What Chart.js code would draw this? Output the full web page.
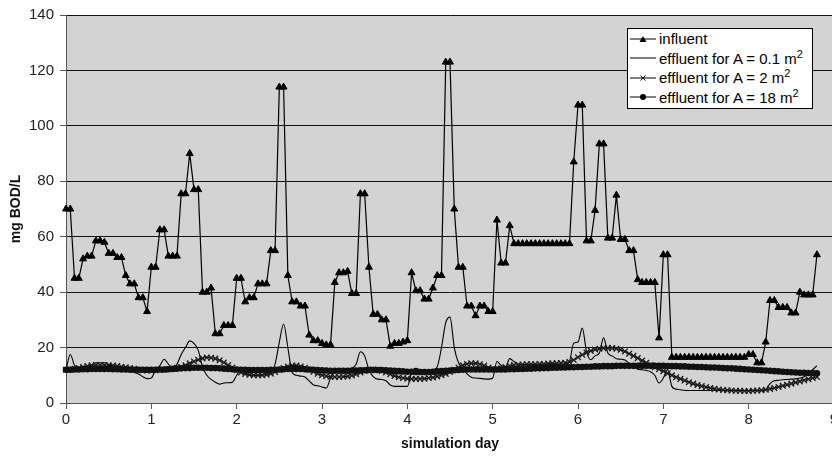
<!DOCTYPE html>
<html lang="en">
<head>
<meta charset="UTF-8">
<title>BOD simulation</title>
<style>
  body { margin: 0; background: #fff; overflow: hidden; }
  #wrap { position: relative; width: 832px; height: 457px; overflow: hidden; }
  #bod { display: block; }
  #legend {
    position: absolute; left: 627px; top: 28px; width: 186px; height: 81px;
    box-sizing: border-box; background: #fff; border: 1px solid #000;
    font: 15px "Liberation Sans", Arial, sans-serif; color: #000; padding-top: 0px;
  }
  .row { height: 19.5px; display: flex; align-items: center; white-space: nowrap; }
  .row svg { margin: 0 3px 0 2px; flex: none; }
  sup { font-size: 11px; vertical-align: 6px; line-height: 0; }
</style>
</head>
<body>
<div id="wrap">
  <canvas id="bod" width="850" height="457"></canvas>
  <div id="legend"></div>
</div>
<script src="https://cdn.jsdelivr.net/npm/chart.js"></script>
<script>
// one output every 0.05 day, from day 0 to day 8.8
const step = 0.05;

const influent = [
  70, 70, 45, 45, 52, 53, 53, 58.5, 58.5, 58,
  54, 54, 52.5, 52.5, 46, 43, 43, 38, 38, 33,
  49, 49, 62.5, 62.5, 53, 53, 53, 75.5, 75.5, 90,
  77, 77, 40, 40, 41.5, 25, 25, 28, 28, 28,
  45, 45, 36.5, 38, 38, 43, 43, 43, 55, 55,
  114, 114, 46, 36.5, 36.5, 35, 35, 24.5, 22.5, 22.5,
  21.5, 21, 21, 43.5, 47, 47, 47.5, 39.5, 39.5, 75.5,
  75.5, 49, 32, 32, 30, 30, 20.5, 21.5, 21.5, 22,
  22.5, 47, 40.5, 40.5, 37.5, 37.5, 41.5, 46, 46, 123,
  123, 70, 49, 49, 35, 35, 31.5, 35, 35, 33,
  33, 66, 50.5, 50.5, 64, 57.5, 57.5, 57.5, 57.5, 57.5,
  57.5, 57.5, 57.5, 57.5, 57.5, 57.5, 57.5, 57.5, 57.5, 87,
  107.5, 107.5, 58.5, 58.5, 69.5, 93.5, 93.5, 59.5, 59.5, 75,
  59, 59, 55, 55, 44.5, 43.5, 43.5, 43.5, 43.5, 23.5,
  53.5, 53.5, 16.5, 16.5, 16.5, 16.5, 16.5, 16.5, 16.5, 16.5,
  16.5, 16.5, 16.5, 16.5, 16.5, 16.5, 16.5, 16.5, 16.5, 16.5,
  17.5, 17.5, 14.5, 14.5, 22, 37, 37, 34.5, 34.5, 34.5,
  32.5, 32.5, 40, 39, 39, 39, 53.5
];

const effA01 = [
  12, 17.5, 13.5, 12, 12, 12.5, 13.5, 14.5, 14.5, 14.5,
  14, 13.5, 12.5, 12, 12, 11.5, 11, 10.5, 9.5, 8.8,
  9, 12, 13.5, 15.8, 14, 12.5, 14, 17.5, 20, 22.4,
  21.5, 19, 13, 10, 8.5, 7.5, 6.8, 7.2, 7.3, 7.5,
  10, 12, 10.8, 10.2, 10, 10, 10.2, 10.5, 10.5, 14,
  22, 28.5, 20, 11, 10, 9.7, 9.4, 8, 6.5, 6.2,
  5.8, 5.4, 9, 12, 12, 12, 12.2, 12.5, 14, 18.5,
  17, 12, 9.5, 8.6, 8.5, 8, 6.5, 6, 6, 6,
  6, 11, 12.5, 12, 11.5, 11.5, 12, 13, 20, 29,
  31, 20, 14.5, 12.5, 10.5, 9.3, 9, 8.9, 8.7, 8.6,
  9, 15, 13.5, 13, 16, 15, 14, 13.8, 13.8, 13.8,
  13.8, 13.8, 13.8, 13.8, 13.8, 13.8, 13.8, 14, 15, 21.6,
  22, 27, 18.5, 15.6, 17, 18, 23.5, 18, 17, 16,
  15.8, 15.5, 14.3, 13.2, 12.2, 12, 11.7, 11.3, 10, 7.2,
  9, 12, 6, 5, 4.8, 4.5, 4.5, 4.5, 4.5, 4.5,
  4.5, 4.5, 4.5, 4.5, 4.5, 4.5, 4.5, 4.5, 4.5, 4.5,
  4.5, 4.5, 4.5, 4.5, 4.8, 7, 8, 8.2, 8.4, 8.5,
  8.6, 8.7, 9, 9.5, 10.5, 12, 13.5
];

const effA2 = [
  12, 12, 12.3, 12.6, 13, 13.3, 13.6, 13.7, 13.7, 13.7,
  13.6, 13.5, 13.3, 13.1, 12.9, 12.6, 12.3, 12, 11.8, 11.7,
  11.7, 11.8, 11.9, 12, 12.2, 12.4, 12.7, 13, 13.6, 14.3,
  15, 15.6, 16.1, 16.4, 16.3, 16, 15.4, 14.6, 13.7, 12.8,
  11.8, 11, 10.5, 10.2, 10, 10, 10, 10.2, 10.6, 11.2,
  11.9, 12.6, 13.2, 13.5, 13.5, 13.2, 12.7, 12, 11.3, 10.6,
  10, 9.7, 9.5, 9.4, 9.4, 9.5, 9.6, 9.9, 10.4, 11,
  11.6, 12, 12.1, 12, 11.6, 11, 10.4, 9.8, 9.3, 9,
  8.8, 8.7, 8.7, 8.7, 8.8, 9, 9.2, 9.6, 10, 10.5,
  11.2, 12, 12.8, 13.6, 14.1, 14.3, 14.3, 14, 13.5, 12.8,
  12.2, 12.2, 12.5, 13, 13.4, 13.7, 13.8, 13.9, 14, 14,
  14, 14.1, 14.1, 14.2, 14.3, 14.3, 14.4, 14.5, 14.8, 15.5,
  16.5, 17.4, 18.2, 18.8, 19.3, 19.6, 19.8, 19.8, 19.8, 19.6,
  19.2, 18.6, 17.8, 17, 16.2, 15.3, 14.5, 13.7, 12.9, 12.2,
  11.5, 10.7, 10, 9.3, 8.7, 8.1, 7.5, 7, 6.5, 6.1,
  5.7, 5.4, 5.1, 4.9, 4.7, 4.6, 4.5, 4.4, 4.4, 4.3,
  4.3, 4.4, 4.5, 4.6, 4.8, 5.1, 5.4, 5.8, 6.2, 6.6,
  7, 7.4, 7.8, 8.2, 8.6, 9, 9.4
];

const effA18 = [
  12, 12, 12.1, 12.1, 12.2, 12.2, 12.3, 12.3, 12.3, 12.3,
  12.3, 12.2, 12.2, 12.1, 12.1, 12, 12, 12, 12, 12,
  12, 12, 12.1, 12.1, 12.2, 12.3, 12.4, 12.5, 12.6, 12.6,
  12.7, 12.7, 12.7, 12.7, 12.6, 12.6, 12.5, 12.4, 12.3, 12.2,
  12.1, 12, 12, 11.9, 11.9, 11.9, 11.9, 11.9, 12, 12,
  12.1, 12.2, 12.3, 12.3, 12.3, 12.3, 12.2, 12.1, 12, 11.9,
  11.8, 11.7, 11.6, 11.6, 11.6, 11.6, 11.6, 11.7, 11.7, 11.8,
  11.8, 11.9, 11.9, 11.9, 11.9, 11.8, 11.7, 11.6, 11.5, 11.4,
  11.3, 11.3, 11.2, 11.2, 11.2, 11.2, 11.3, 11.4, 11.5, 11.6,
  11.7, 11.8, 11.9, 12, 12.1, 12.1, 12.1, 12.1, 12.1, 12.1,
  12.1, 12.1, 12.1, 12.1, 12.2, 12.2, 12.3, 12.3, 12.4, 12.4,
  12.5, 12.5, 12.6, 12.6, 12.7, 12.7, 12.8, 12.8, 12.9, 12.9,
  13, 13, 13.1, 13.1, 13.2, 13.2, 13.3, 13.3, 13.3, 13.4,
  13.4, 13.4, 13.4, 13.4, 13.4, 13.4, 13.4, 13.4, 13.4, 13.4,
  13.4, 13.3, 13.3, 13.3, 13.2, 13.2, 13.1, 13.1, 13, 13,
  12.9, 12.8, 12.8, 12.7, 12.6, 12.5, 12.5, 12.4, 12.3, 12.2,
  12.1, 12, 11.9, 11.8, 11.7, 11.6, 11.5, 11.4, 11.3, 11.2,
  11.1, 11, 10.9, 10.9, 10.8, 10.8, 10.7
];

const seriesNames = ['influent', 'effluent for A = 0.1 m', 'effluent for A = 2 m', 'effluent for A = 18 m'];
const dayTicks = [0, 1, 2, 3, 4, 5, 6, 7, 8, 9];
const bodTicks = [0, 20, 40, 60, 80, 100, 120, 140];

const days = influent.map((v, i) => +(i * step).toFixed(2));
const pts = arr => arr.map((v, i) => ({ x: days[i], y: v }));

const plotBg = {
  id: 'plotBg',
  beforeDraw(chart) {
    const { ctx, chartArea: a } = chart;
    ctx.save();
    ctx.fillStyle = '#d3d3d3';
    ctx.fillRect(a.left, a.top, a.right - a.left, a.bottom - a.top);
    ctx.restore();
  }
};

const font = '"Liberation Sans", Arial, sans-serif';

const chart = new Chart(document.getElementById('bod'), {
  type: 'line',
  data: {
    datasets: [
      {
        label: seriesNames[0], data: pts(influent), order: 0,
        borderColor: '#000', borderWidth: 1.2, tension: 0,
        pointStyle: 'triangle', pointRadius: 4, pointBorderWidth: 1,
        pointBackgroundColor: '#000', pointBorderColor: '#000', clip: 8
      },
      {
        label: seriesNames[1], data: pts(effA01), order: 3,
        borderColor: '#000', borderWidth: 1.1, cubicInterpolationMode: 'monotone',
        pointRadius: 0, clip: 8
      },
      {
        label: seriesNames[2], data: pts(effA2), order: 2,
        borderColor: '#000', borderWidth: 1, cubicInterpolationMode: 'monotone',
        pointStyle: 'crossRot', pointRadius: 4, pointBorderWidth: 1.3,
        pointBorderColor: '#1a1a1a', clip: 8
      },
      {
        label: seriesNames[3], data: pts(effA18), order: 1,
        borderColor: '#000', borderWidth: 1, cubicInterpolationMode: 'monotone',
        pointStyle: 'circle', pointRadius: 3.3, pointBorderWidth: 0,
        pointBackgroundColor: '#111', clip: 8
      }
    ]
  },
  options: {
    responsive: false,
    animation: false,
    events: [],
    layout: { padding: { top: 14, right: 16, left: 0, bottom: 0 } },
    plugins: { legend: { display: false }, tooltip: { enabled: false } },
    scales: {
      x: {
        type: 'linear', min: 0, max: 9,
        afterBuildTicks: s => { s.ticks = dayTicks.map(v => ({ value: v })); },
        afterFit: s => { s.height = 54; },
        ticks: { color: '#222', font: { family: font, size: 15 }, padding: 2, maxRotation: 0 },
        grid: { drawOnChartArea: false, tickLength: 6, tickColor: '#555' },
        border: { color: '#555' },
        title: {
          display: true, text: 'simulation day', color: '#111',
          font: { family: font, size: 14, weight: 'bold' }, padding: { top: 0, bottom: 4 }
        }
      },
      y: {
        min: 0, max: 140,
        afterBuildTicks: s => { s.ticks = bodTicks.map(v => ({ value: v })); },
        afterFit: s => { s.width = 66; },
        ticks: { color: '#222', font: { family: font, size: 15 }, padding: 6 },
        grid: { color: '#111', lineWidth: 1, tickLength: 6, tickColor: '#555' },
        border: { color: '#555' },
        title: {
          display: true, text: 'mg BOD/L', color: '#111',
          font: { family: font, size: 14, weight: 'bold' }, padding: { top: 8, bottom: 0 }
        }
      }
    }
  },
  plugins: [plotBg]
});

// legend in html so the m² can carry a real superscript
const samples = [
  '<line x1="0" y1="6" x2="26" y2="6" stroke="#000"/><polygon points="9.5,9 16.5,9 13,3" fill="#000"/>',
  '<line x1="0" y1="6" x2="26" y2="6" stroke="#000"/>',
  '<line x1="0" y1="6" x2="26" y2="6" stroke="#000"/><path d="M10.5 3.5 L15.5 8.5 M15.5 3.5 L10.5 8.5" stroke="#000"/>',
  '<line x1="0" y1="6" x2="26" y2="6" stroke="#000"/><circle cx="13" cy="6" r="3" fill="#000"/>'
];
document.getElementById('legend').innerHTML = seriesNames.map((name, i) =>
  `<div class="row"><svg width="26" height="12">${samples[i]}</svg><span>${name}${i > 0 ? '<sup>2</sup>' : ''}</span></div>`
).join('');
</script>
</body>
</html>
